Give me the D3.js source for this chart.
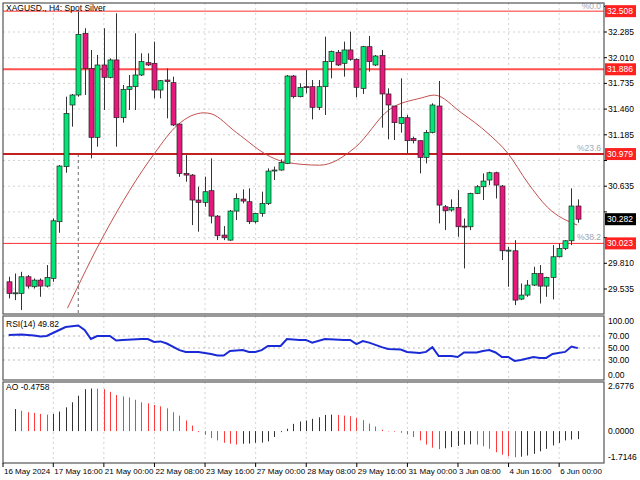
<!DOCTYPE html><html><head><meta charset="utf-8">
<script src="https://d3js.org/d3.v7.min.js"></script>
<style>body{margin:0;background:#fff}svg{display:block}text{font-family:"Liberation Sans",Arial,sans-serif;font-size:8.5px;fill:#000}.tl{font-size:8px}</style>
</head><body><svg id="c" width="640" height="480"></svg>
<script>
const open=[29.612,29.487,29.487,29.666,29.559,29.630,29.566,29.648,30.255,30.844,31.504,31.611,32.271,31.896,31.158,31.932,31.800,31.986,31.368,31.671,31.700,31.825,31.957,31.950,31.664,31.771,31.743,31.300,30.772,30.754,30.487,30.462,30.587,30.315,30.112,30.058,30.369,30.497,30.469,30.255,30.344,30.451,30.801,30.808,30.879,31.814,31.593,31.700,31.700,31.479,31.700,31.968,32.068,31.950,32.093,31.993,31.682,32.128,31.932,32.032,31.622,31.493,31.307,31.368,31.147,31.122,30.943,31.211,31.493,30.415,30.380,30.408,30.208,30.201,30.558,30.629,30.701,30.779,30.637,29.944,29.944,29.427,29.470,29.577,29.701,29.566,29.659,29.880,29.969,30.051,30.423];
const high=[29.666,29.701,29.719,29.684,29.648,29.648,29.791,30.290,30.861,31.593,31.622,32.503,32.325,32.093,32.039,32.325,32.003,32.485,31.718,31.825,32.271,32.057,32.057,32.182,31.771,31.896,31.807,31.307,30.968,30.765,30.629,30.737,30.933,30.326,30.208,30.380,30.558,30.601,30.612,30.351,30.576,30.826,30.844,30.922,31.825,31.825,31.736,31.878,31.771,31.771,32.235,32.086,32.093,32.182,32.289,32.003,32.136,32.243,32.039,32.093,31.682,31.493,31.789,31.397,31.165,31.122,31.236,31.522,31.761,30.433,30.494,30.594,30.290,30.565,30.647,30.772,30.790,30.790,30.647,29.987,30.058,29.594,29.630,29.773,29.791,29.666,30.005,30.023,30.058,30.612,30.494];
const low=[29.434,29.416,29.309,29.541,29.541,29.452,29.552,29.612,30.137,30.779,31.272,31.593,31.611,30.933,31.058,31.450,31.789,31.058,31.315,31.450,31.450,31.814,31.921,31.575,31.575,31.361,31.279,30.736,30.683,30.219,30.148,30.415,30.237,30.058,30.058,30.051,30.272,30.451,30.230,30.237,30.308,30.433,30.701,30.801,30.872,31.575,31.586,31.629,31.350,31.450,31.397,31.789,31.921,31.807,31.978,31.586,31.622,31.861,31.921,31.261,31.136,31.129,31.208,30.986,31.093,30.772,30.879,31.200,30.237,30.165,30.362,30.094,29.755,30.165,30.551,30.487,30.647,30.504,29.844,29.559,29.362,29.416,29.452,29.566,29.380,29.452,29.423,29.873,29.951,30.005,30.244];
const close=[29.487,29.494,29.666,29.566,29.630,29.566,29.659,30.265,30.851,31.414,31.611,32.260,31.896,31.158,31.932,31.800,31.986,31.368,31.671,31.700,31.825,31.968,31.932,31.664,31.764,31.754,31.290,30.772,30.754,30.487,30.462,30.576,30.315,30.105,30.083,30.369,30.504,30.476,30.255,30.344,30.451,30.797,30.808,30.890,31.814,31.593,31.693,31.693,31.479,31.700,31.968,32.075,31.932,32.093,31.993,31.693,32.128,31.968,32.028,31.622,31.504,31.315,31.372,31.122,31.122,30.943,31.211,31.504,30.433,30.372,30.408,30.201,30.201,30.558,30.629,30.690,30.779,30.647,29.944,29.951,29.416,29.470,29.577,29.701,29.566,29.659,29.880,29.969,30.051,30.423,30.282];
const maIdx=[9.3,15.2,23.1,26.7,30.9,32,36,41.4,43.9,49.2,54.8,60.1,65.3,67.3,71.6,75.8,78.9,82.1,85.2,89.9];
const maVal=[29.33,30.13,30.99,31.29,31.42,31.41,31.21,30.95,30.89,30.86,31.05,31.45,31.58,31.61,31.42,31.20,30.99,30.67,30.41,30.22];
const rsiIdx=[0,2,4,5,6,8,9,11,12,13,14,15,16,17,18,21,22,23,24,25,27,28,30,32,33,34,35,37,38,39,40,41,43,44,46,47,48,50,53,54,55,56,57,59,60,62,63,65,66,67,68,70,71,72,74,75,76,77,78,79,80,81,83,84,85,86,88,89,90];
const rsiVal=[71.5,72.5,71,69,70,80,85,87.5,80,65,70,70,70,62.5,63.5,65,65,60,61,57.5,46.5,43.5,43.5,40,37.5,37.5,45,46.5,43.5,43.5,46.5,53.5,53.5,65,63.5,63.5,59,65,63.5,63.5,56.5,61.5,59,51.5,48.5,47.5,43.5,41.5,43.5,51.5,36.5,36.5,35,42.5,42.5,45,46.5,42.5,35,35,28.5,30,35,33.5,33.5,40,43.5,52.5,49.82];
const ao=[null,1.31,1.21,1.12,1.08,1.02,0.98,1.02,1.16,1.41,1.71,2.10,2.49,2.53,2.52,2.49,2.33,2.14,2.06,2.00,1.86,1.71,1.65,1.55,1.47,1.35,1.12,0.92,0.63,0.33,-0.06,-0.22,-0.41,-0.55,-0.69,-0.75,-0.80,-0.75,-0.74,-0.69,-0.68,-0.61,-0.35,-0.06,0.14,0.43,0.57,0.63,0.73,0.82,0.96,0.98,0.96,0.92,0.88,0.78,0.65,0.45,0.27,0.08,-0.02,-0.04,-0.10,-0.20,-0.35,-0.55,-0.80,-0.98,-1.07,-1.02,-0.95,-0.88,-0.80,-0.78,-0.80,-0.90,-1.05,-1.25,-1.40,-1.50,-1.55,-1.52,-1.45,-1.35,-1.20,-1.05,-0.85,-0.70,-0.55,-0.50,-0.4758];
const priceTicks=[32.560,32.285,32.010,31.735,31.460,31.185,30.910,30.635,30.360,30.085,29.810,29.535];
const levels=[32.508,31.886,30.979,30.023];
const timeLabels=["16 May 2024","17 May 16:00","21 May 00:00","22 May 08:00","23 May 16:00","27 May 00:00","28 May 08:00","29 May 16:00","31 May 00:00","3 Jun 08:00","4 Jun 16:00","6 Jun 00:00"];
const timeIdx=[0,8,16,24,32,40,48,56,64,72,80,88];
const rsiTicks=[100,70,50,30,0];

const svg=d3.select("#c");
const L=3,R=604;
const x=d3.scaleLinear().domain([0,90]).range([8.7,577.8]);
const y=d3.scaleLinear().domain([32.285,29.535]).range([32,289]);
const yr=d3.scaleLinear().domain([0,100]).range([378,318]);
const ya=d3.scaleLinear().domain([-1.7146,2.6776]).range([460,386]);
const panels=[[3,314],[316,380],[382,463]];
const g=svg.append("g").attr("stroke","#c8c8c8").attr("stroke-dasharray","2,3").attr("stroke-width",0.8);
priceTicks.slice(1).forEach(p=>g.append("line").attr("x1",L).attr("x2",R).attr("y1",y(p)).attr("y2",y(p)));
timeIdx.slice(1).forEach(i=>panels.forEach(([a,b])=>g.append("line").attr("x1",x(i)-6).attr("x2",x(i)-6).attr("y1",a).attr("y2",b)));
[70,50,30].forEach(v=>g.append("line").attr("x1",L).attr("x2",R).attr("y1",yr(v)).attr("y2",yr(v)).attr("stroke","#aaa"));
svg.append("line").attr("x1",x(11)).attr("x2",x(11)).attr("y1",y(30.979)).attr("y2",314).attr("stroke","#444").attr("stroke-dasharray","3,3").attr("stroke-width",0.8);
const lvStyle=[["#ff3030",1],["#ff5050",2],["#c02020",2],["#ff3030",1]];
levels.forEach((v,k)=>svg.append("line").attr("x1",L).attr("x2",R).attr("y1",y(v)).attr("y2",y(v)).attr("stroke",lvStyle[k][0]).attr("stroke-width",lvStyle[k][1]));
[["%0.0",32.5,9],["%23.6",30.979,-3],["%38.2",30.023,-3]].forEach(([t,v,dy])=>svg.append("text").attr("x",601).attr("y",dy>0?dy:y(v)+dy).attr("text-anchor","end").style("fill","#a0a8b8").text(t));
svg.append("clipPath").attr("id","cm").append("rect").attr("x",L).attr("y",3).attr("width",R-L).attr("height",311);
const m=svg.append("g").attr("clip-path","url(#cm)");
m.append("path").datum(maIdx.map((d,i)=>[d,maVal[i]])).attr("fill","none").attr("stroke","#c0504d").attr("stroke-width",1)
 .attr("d",d3.line().x(d=>x(d[0])).y(d=>y(d[1])).curve(d3.curveMonotoneX));
open.forEach((o,i)=>{
 const c=close[i],up=c>=o,cx=Math.round(x(i))+0.5;
 m.append("line").attr("x1",cx).attr("x2",cx).attr("y1",y(high[i])).attr("y2",y(low[i])).attr("stroke","#333");
 const t=y(Math.max(o,c)),b=y(Math.min(o,c));
 m.append("rect").attr("x",cx-2.5).attr("y",t).attr("width",5).attr("height",Math.max(1,b-t)).attr("fill",up?"#00e676":"#e8177d").attr("stroke","#222").attr("stroke-width",0.7);
});
panels.forEach(([a,b])=>svg.append("rect").attr("x",L).attr("y",a).attr("width",R-L).attr("height",b-a).attr("fill","none").attr("stroke","#555").attr("stroke-width",1.2));
const last=close[close.length-1];
const boxes=levels.concat([last]);
priceTicks.forEach(p=>{svg.append("line").attr("x1",R).attr("x2",R+3).attr("y1",y(p)).attr("y2",y(p)).attr("stroke","#000");
 if(boxes.some(b=>Math.abs(y(b)-y(p))<8))return;
 svg.append("text").attr("x",608).attr("y",Math.max(y(p),8)+3).text(p.toFixed(3));});
levels.forEach(v=>{svg.append("rect").attr("x",R+1).attr("y",y(v)-6).attr("width",31).attr("height",12).attr("fill","#ff2020");
 svg.append("text").attr("x",607).attr("y",y(v)+3).style("fill","#fff").text(v.toFixed(3));});
svg.append("rect").attr("x",R+1).attr("y",y(last)-6).attr("width",31).attr("height",12).attr("fill","#000");
svg.append("text").attr("x",607).attr("y",y(last)+3).style("fill","#fff").text(last.toFixed(3));
svg.append("text").attr("x",6).attr("y",11).text("XAGUSD., H4:  Spot Silver");
svg.append("path").datum(rsiIdx.map((d,i)=>[d,rsiVal[i]])).attr("fill","none").attr("stroke","#1a2bd6").attr("stroke-width",2)
 .attr("d",d3.line().x(d=>x(d[0])).y(d=>yr(d[1])));
rsiTicks.forEach(v=>svg.append("text").attr("x",608).attr("y",Math.min(Math.max(yr(v),321),375)+3).text(v.toFixed(2)));
svg.append("text").attr("x",6).attr("y",327).text("RSI(14) "+rsiVal[rsiVal.length-1].toFixed(2));
ao.forEach((v,i)=>{if(v==null)return;const prev=ao[i-1];const upc=prev==null||v>=prev;
 svg.append("line").attr("x1",Math.round(x(i))+0.5).attr("x2",Math.round(x(i))+0.5).attr("y1",ya(0)).attr("y2",ya(v)).attr("stroke",upc?"#333":"#ff3a3a").attr("stroke-width",1);});
[[2.6776,"2.6776"],[0,"0.0000"],[-1.7146,"-1.7146"]].forEach(([v,t])=>svg.append("text").attr("x",608).attr("y",Math.min(ya(v)+3,460)).text(t));
svg.append("text").attr("x",6).attr("y",390).text("AO "+ao[ao.length-1].toFixed(4));
timeIdx.forEach((i,k)=>{const xx=k==0?3:x(i)-6;svg.append("line").attr("x1",xx).attr("x2",xx).attr("y1",463).attr("y2",467).attr("stroke","#000");
 svg.append("text").attr("class","tl").attr("x",xx+1).attr("y",474).text(timeLabels[k]);});
</script></body></html>
